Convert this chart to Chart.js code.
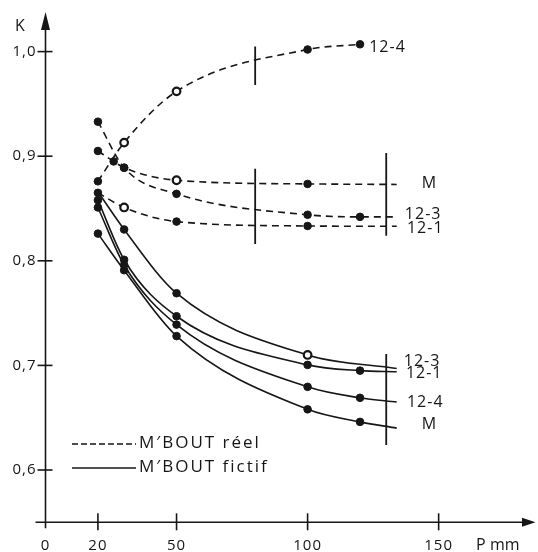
<!DOCTYPE html>
<html>
<head>
<meta charset="utf-8">
<script src="https://cdn.jsdelivr.net/npm/chart.js@4"></script>
<style>
  body { margin: 0; background: #fff; }
  canvas { display: block; }
</style>
</head>
<body>
<canvas id="kChart" width="538" height="552"></canvas>
<script>
// M'BOUT reel (dashed)
const reel12_4P = [20, 30, 50, 100, 120];
const reel12_4K = [0.876, 0.913, 0.962, 1.002, 1.007];
const reelMP = [20, 26, 30, 50, 100, 134];
const reelMK = [0.905, 0.895, 0.889, 0.877, 0.8735, 0.873];
const reel12_3P = [20, 30, 50, 100, 120, 134];
const reel12_3K = [0.933, 0.889, 0.864, 0.844, 0.842, 0.842];
const reel12_1P = [20, 30, 50, 100, 134];
const reel12_1K = [0.865, 0.851, 0.8375, 0.8333, 0.833];

// M'BOUT fictif (solid)
const fictif12_3P = [20, 30, 50, 100, 134];
const fictif12_3K = [0.866, 0.830, 0.769, 0.710, 0.697];
const fictif12_1P = [20, 30, 50, 100, 120, 134];
const fictif12_1K = [0.858, 0.801, 0.747, 0.7005, 0.695, 0.694];
const fictif12_4P = [20, 30, 50, 100, 120, 134];
const fictif12_4K = [0.851, 0.796, 0.739, 0.6795, 0.669, 0.665];
const fictifMP = [20, 30, 50, 100, 120, 134];
const fictifMK = [0.826, 0.791, 0.728, 0.658, 0.646, 0.640];

// marker kind per point: 'dot', 'open' or '' (none)
const reel12_4Marks = ['dot', 'open', 'open', 'dot', 'dot'];
const reelMMarks = ['dot', 'dot', 'dot', 'open', 'dot', ''];
const reel12_3Marks = ['dot', 'dot', 'dot', 'dot', 'dot', ''];
const reel12_1Marks = ['dot', 'open', 'dot', 'dot', ''];
const fictif12_3Marks = ['', 'dot', 'dot', 'open', ''];
const fictif12_1Marks = ['dot', 'dot', 'dot', 'dot', 'dot', ''];
const fictif12_4Marks = ['dot', 'dot', 'dot', 'dot', 'dot', ''];
const fictifMMarks = ['dot', 'dot', 'dot', 'dot', 'dot', ''];

// vertical bars
const barP = [80, 80, 130, 130];
const barLow = [0.968, 0.816, 0.824, 0.624];
const barHigh = [1.005, 0.888, 0.903, 0.711];

const xTicks = [20, 50, 100, 150];
const xTickLabels = ['20', '50', '100', '150'];
const yTicks = [0.6, 0.7, 0.8, 0.9, 1.0];
const yTickLabels = ['0,6', '0,7', '0,8', '0,9', '1,0'];

const INK = '#161616';
const FONT = '"Open Sans", "DejaVu Sans", sans-serif';

function toPoints(P, K) {
  return P.map((p, i) => ({ x: p, y: K[i] }));
}

function curve(P, K, marks, dashed) {
  return {
    data: toPoints(P, K),
    borderColor: INK,
    borderWidth: 1.6,
    borderDash: dashed ? [7, 5] : [],
    cubicInterpolationMode: 'monotone',
    pointRadius: marks.map(m => m ? 3.8 : 0),
    pointBackgroundColor: marks.map(m => m === 'open' ? '#fff' : INK),
    pointBorderColor: INK,
    pointBorderWidth: marks.map(m => m === 'open' ? 2.2 : 1),
    clip: false
  };
}

const datasets = [
  curve(reel12_4P, reel12_4K, reel12_4Marks, true),
  curve(reelMP, reelMK, reelMMarks, true),
  curve(reel12_3P, reel12_3K, reel12_3Marks, true),
  curve(reel12_1P, reel12_1K, reel12_1Marks, true),
  curve(fictif12_3P, fictif12_3K, fictif12_3Marks, false),
  curve(fictif12_1P, fictif12_1K, fictif12_1Marks, false),
  curve(fictif12_4P, fictif12_4K, fictif12_4Marks, false),
  curve(fictifMP, fictifMK, fictifMMarks, false)
];

barP.forEach((p, i) => {
  datasets.push({
    data: [{ x: p, y: barLow[i] }, { x: p, y: barHigh[i] }],
    borderColor: INK,
    borderWidth: 1.8,
    pointRadius: 0,
    tension: 0
  });
});

const curveLabels = [
  { text: '12-4', p: 123.5, k: 1.004 },
  { text: 'M', p: 143.6, k: 0.8744 },
  { text: '12-3', p: 137.1, k: 0.8441 },
  { text: '12-1', p: 137.9, k: 0.8314 },
  { text: '12-3', p: 136.7, k: 0.7042 },
  { text: '12-1', p: 137.5, k: 0.6921 },
  { text: '12-4', p: 137.9, k: 0.6645 },
  { text: 'M', p: 143.6, k: 0.6435 }
];

const axesPlugin = {
  id: 'axes',
  beforeDatasetsDraw(chart) {
    const { ctx, scales: { x, y } } = chart;
    const x0 = x.getPixelForValue(0);
    const yAxis = y.getPixelForValue(y.min);
    ctx.save();
    ctx.strokeStyle = INK;
    ctx.fillStyle = INK;
    ctx.lineWidth = 1.6;

    // y axis with arrow
    ctx.beginPath();
    ctx.moveTo(x0, yAxis + 6);
    ctx.lineTo(x0, y.top + 6);
    ctx.stroke();
    ctx.beginPath();
    ctx.moveTo(x0, y.top - 3);
    ctx.lineTo(x0 - 4.5, y.top + 15);
    ctx.lineTo(x0 + 4.5, y.top + 15);
    ctx.closePath();
    ctx.fill();

    // x axis with arrow
    ctx.beginPath();
    ctx.moveTo(x0 - 10, yAxis);
    ctx.lineTo(x.right - 6, yAxis);
    ctx.stroke();
    ctx.beginPath();
    ctx.moveTo(x.right + 2.5, yAxis);
    ctx.lineTo(x.right - 11, yAxis - 4.5);
    ctx.lineTo(x.right - 11, yAxis + 4.5);
    ctx.closePath();
    ctx.fill();

    ctx.font = '15px ' + FONT;
    ctx.letterSpacing = '1px';
    ctx.textBaseline = 'middle';

    xTicks.forEach((v, i) => {
      const px = x.getPixelForValue(v);
      ctx.beginPath();
      ctx.moveTo(px, yAxis - 9);
      ctx.lineTo(px, yAxis + 8);
      ctx.stroke();
      ctx.textAlign = 'center';
      ctx.fillText(xTickLabels[i], px, yAxis + 23);
    });
    ctx.textAlign = 'center';
    ctx.fillText('0', x0, yAxis + 23);

    yTicks.forEach((v, i) => {
      const py = y.getPixelForValue(v);
      ctx.beginPath();
      ctx.moveTo(x0 - 8, py);
      ctx.lineTo(x0 + 7, py);
      ctx.stroke();
      ctx.textAlign = 'right';
      ctx.fillText(yTickLabels[i], x0 - 9, py);
    });

    ctx.textAlign = 'left';
    ctx.letterSpacing = '0px';
    ctx.font = '16px ' + FONT;
    ctx.fillText('K', 15, 26);
    ctx.font = '16px ' + FONT;
    ctx.fillText('P', 476, yAxis + 23);
    ctx.fillText('mm', 490, yAxis + 23);
    ctx.restore();
  },
  afterDraw(chart) {
    const { ctx, scales: { x, y } } = chart;
    ctx.save();
    ctx.fillStyle = INK;
    ctx.strokeStyle = INK;
    ctx.font = '16px ' + FONT;
    ctx.letterSpacing = '1px';
    ctx.textAlign = 'left';
    ctx.textBaseline = 'middle';
    curveLabels.forEach(l => {
      ctx.fillText(l.text, x.getPixelForValue(l.p), y.getPixelForValue(l.k));
    });

    // legend
    ctx.lineWidth = 1.5;
    ctx.setLineDash([6, 3]);
    ctx.beginPath();
    ctx.moveTo(72, 444);
    ctx.lineTo(136, 444);
    ctx.stroke();
    ctx.setLineDash([]);
    ctx.beginPath();
    ctx.moveTo(72, 468);
    ctx.lineTo(136, 468);
    ctx.stroke();
    ctx.font = '17px ' + FONT;
    ctx.letterSpacing = '2px';
    ctx.fillText('M\u2032BOUT réel', 139, 443);
    ctx.fillText('M\u2032BOUT fictif', 139, 467);
    ctx.restore();
  }
};

new Chart(document.getElementById('kChart'), {
  type: 'line',
  data: { datasets },
  options: {
    responsive: false,
    animation: false,
    layout: { padding: { left: 45.5, right: 3.5, top: 15, bottom: 29.7 } },
    plugins: { legend: { display: false }, tooltip: { enabled: false } },
    scales: {
      x: { type: 'linear', min: 0, max: 186, display: false },
      y: { type: 'linear', min: 0.55, max: 1.035, display: false }
    }
  },
  plugins: [axesPlugin]
});
</script>
</body>
</html>
